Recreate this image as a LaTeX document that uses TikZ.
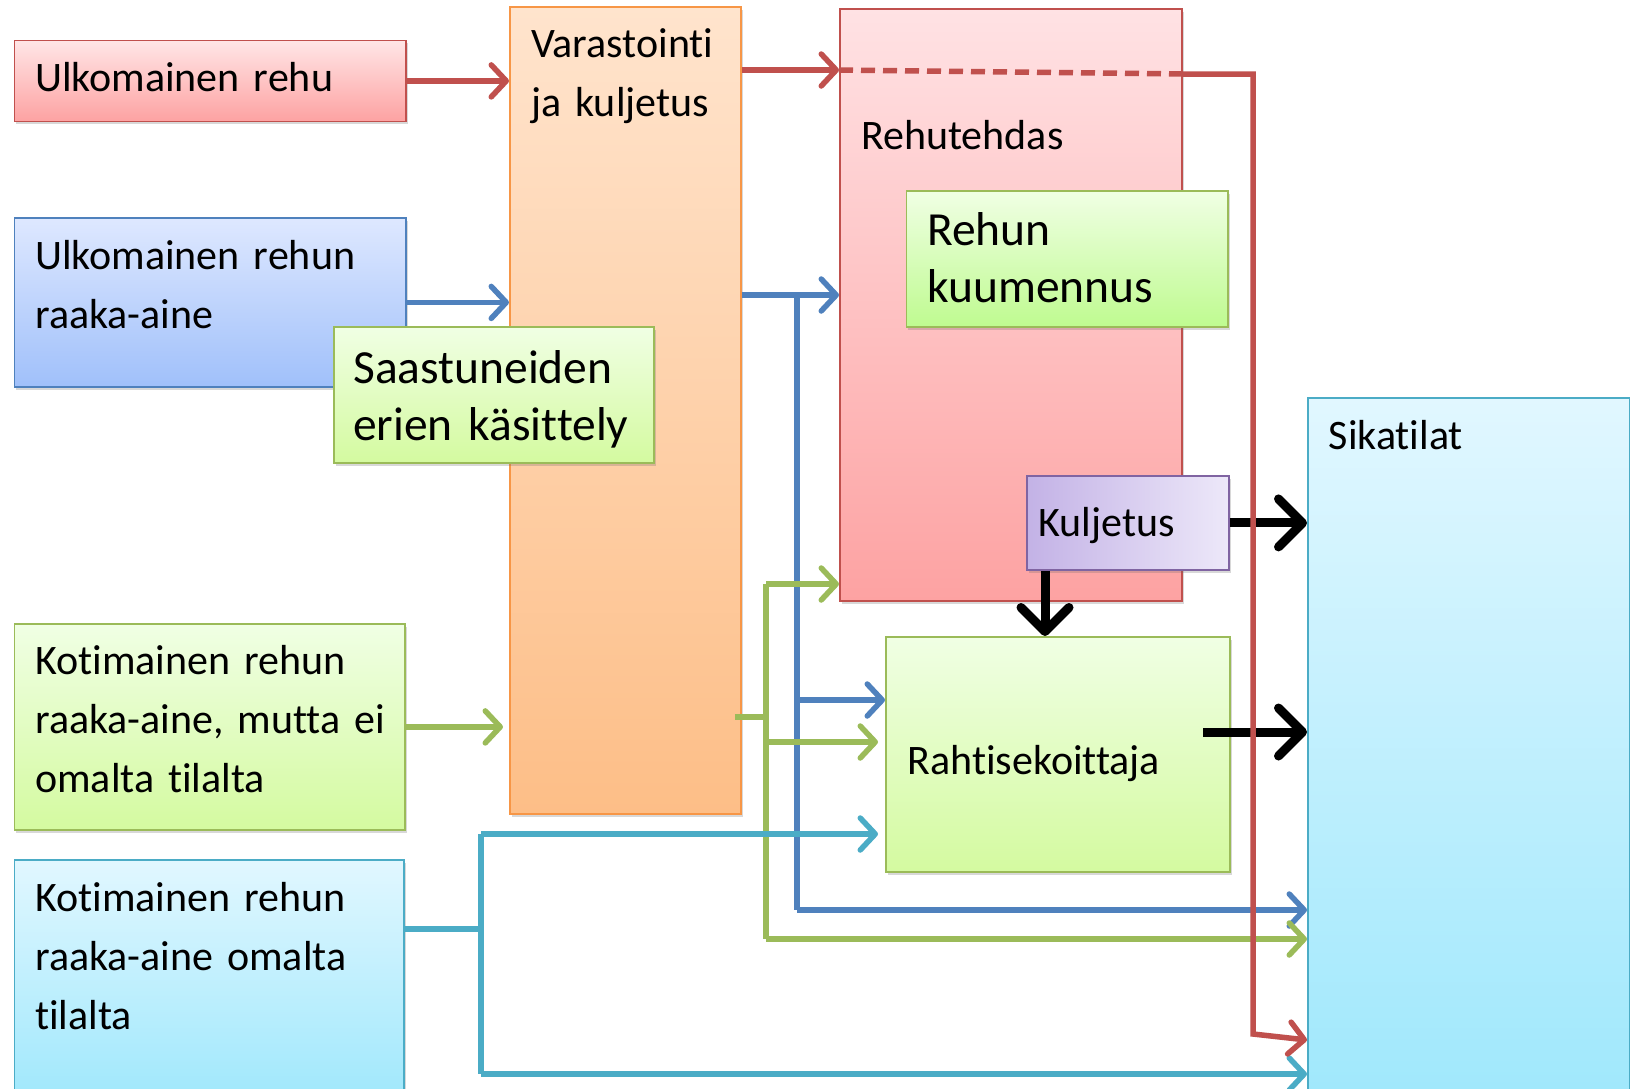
\documentclass[tikz,border=0pt]{standalone}
\usepackage{fontspec}
\setmainfont{Carlito}[Ligatures=NoCommon]
\usetikzlibrary{arrows.meta,shadows}

\definecolor{redline}{RGB}{192,80,77}
\definecolor{blueline}{RGB}{79,129,189}
\definecolor{greenline}{RGB}{155,187,89}
\definecolor{cyanline}{RGB}{75,172,198}
\definecolor{orangeline}{RGB}{247,150,70}
\definecolor{purpleline}{RGB}{128,100,162}
\definecolor{redtop}{RGB}{255,226,228}
\definecolor{redbot}{RGB}{253,162,162}
\definecolor{bluetop}{RGB}{222,232,255}
\definecolor{bluebot}{RGB}{160,192,250}
\definecolor{greentop}{RGB}{240,255,228}
\definecolor{greenbot}{RGB}{212,250,160}
\definecolor{cyantop}{RGB}{225,247,255}
\definecolor{cyanbot}{RGB}{160,232,252}
\definecolor{orangetop}{RGB}{255,228,205}
\definecolor{orangebot}{RGB}{253,190,135}
\definecolor{purpleleft}{RGB}{195,178,230}
\definecolor{purpleright}{RGB}{237,232,249}

\begin{document}
\begin{tikzpicture}[x=1pt,y=1pt,yscale=-1,xscale=1,
  box/.style={draw=#1, line width=1.8pt, inner sep=0pt, anchor=north west,
    drop shadow={shadow xshift=2pt, shadow yshift=-3pt, opacity=0.25, fill=black!60}},
  lbl/.style={anchor=base west, inner sep=0pt, text width=380pt, align=left,
    font=\fontsize{42}{59}\selectfont},
  biglbl/.style={lbl, text width=300pt, font=\fontsize{47.5}{57}\selectfont},
  con/.style={draw=#1, line width=5.5pt, -{Straight Barb[length=15pt,width=32pt,round]}},
  wire/.style={draw=#1, line width=5.5pt},
  kcon/.style={draw=black, line width=9pt, -{Straight Barb[length=24pt,width=48pt,round]}}]

%set diagram size
\path[use as bounding box, fill=white] (0,0) rectangle (1630,1088);

%Shape: Ulkomainen rehu
\node[box=redline, top color=redtop!85!red!40, bottom color=redbot, minimum width=391.5pt, minimum height=81pt] (rehu) at (13.5,39.5) {};
\node[lbl] (rehutxt) at (35,91.5) {Ulkomainen rehu};
%Shape: Ulkomainen raaka-aine
\node[box=blueline, top color=bluetop, bottom color=bluebot, minimum width=391.5pt, minimum height=169pt] (raaka) at (13.5,217) {};
\node[lbl] (raakatxt) at (35,269) {Ulkomainen rehun\\raaka-aine};
%Shape: Kotimainen, ei omalta tilalta
\node[box=greenline, top color=greentop, bottom color=greenbot, minimum width=390.5pt, minimum height=206pt] (kotiei) at (13.5,623) {};
\node[lbl] (kotieitxt) at (35,674) {Kotimainen rehun\\raaka-aine, mutta ei\\omalta tilalta};
%Shape: Kotimainen omalta tilalta
\node[box=cyanline, top color=cyantop, bottom color=cyanbot, minimum width=389.5pt, minimum height=240pt] (omalta) at (13.5,859) {};
\node[lbl] (omaltatxt) at (35,911) {Kotimainen rehun\\raaka-aine omalta\\tilalta};
%Shape: Varastointi
\node[box=orangeline, top color=orangetop, bottom color=orangebot, minimum width=231pt, minimum height=807pt] (varasto) at (509,6) {};
\node[lbl] (varastotxt) at (531,57) {Varastointi\\ja kuljetus};
%Shape: Saastuneiden erien kasittely
\node[box=greenline, top color=greentop, bottom color=greenbot, minimum width=320pt, minimum height=136pt] (saast) at (333,326) {};
\node[biglbl] (saasttxt) at (353,383) {Saastuneiden\\erien käsittely};
%Shape: Rehutehdas
\node[box=redline, top color=redtop, bottom color=redbot, minimum width=342pt, minimum height=592pt] (tehdas) at (839,8) {};
\node[lbl] (tehdastxt) at (861,149) {Rehutehdas};
%Shape: Rehun kuumennus
\node[box=greenline, top color=greentop, bottom color=greenbot!90!green, minimum width=321.5pt, minimum height=136pt] (kuumennus) at (905.5,190) {};
\node[biglbl] (kuumennustxt) at (927,245) {Rehun\\kuumennus};
%Shape: Kuljetus
\node[box=purpleline, left color=purpleleft, right color=purpleright, minimum width=202pt, minimum height=94pt] (kuljetus) at (1026,475) {};
\node[lbl] (kuljetustxt) at (1038.5,536.5) {Kuljetus};
%Shape: Rahtisekoittaja
\node[box=greenline, top color=greentop, bottom color=greenbot, minimum width=344pt, minimum height=235pt] (rahti) at (885,636) {};
\node[lbl] (rahtitxt) at (907.5,774.5) {Rahtisekoittaja};
%Shape: Sikatilat
\node[box=cyanline, top color=cyantop, bottom color=cyanbot, minimum width=322pt, minimum height=700pt] (sika) at (1307,397) {};
\node[lbl] (sikatxt) at (1328.6,449) {Sikatilat};

% blue connectors
\coordinate (b1) at (797,295);
\coordinate (b2) at (797,700);
\coordinate (b3) at (797,910);
\draw[con=blueline] (raaka.east) -- (varasto.west |- raaka.east);
\draw[con=blueline] (varasto.east |- b1) -- (tehdas.west |- b1);
\draw[wire=blueline] (b1) -- (b3);
\draw[con=blueline] (b2) -- (rahti.west |- b2);
\draw[con=blueline] (b3) -- (sika.west |- b3);

% green connectors
\coordinate (g1) at (766,584);
\coordinate (g2) at (766,717);
\coordinate (g3) at (766,742);
\coordinate (g4) at (766,939);
\draw[con=greenline, shorten >=6pt] (kotiei.east) -- (varasto.west |- kotiei.east);
\draw[wire=greenline] ([xshift=-7pt]varasto.east |- g2) -- (g2);
\draw[wire=greenline] (g1) -- (g4);
\draw[con=greenline] (g1) -- (tehdas.west |- g1);
\draw[con=greenline, shorten >=7pt] (g3) -- (rahti.west |- g3);
\draw[con=greenline] (g4) -- (sika.west |- g4);

% cyan connectors
\coordinate (c1) at (481,834);
\coordinate (c2) at (481,929);
\coordinate (c3) at (481,1074);
\draw[wire=cyanline] (omalta.east |- c2) -- (c2);
\draw[wire=cyanline] (c1) -- (c3);
\draw[con=cyanline, shorten >=7pt] (c1) -- (rahti.west |- c1);
\draw[con=cyanline] (c3) -- (sika.west |- c3);

% black connectors
\coordinate (k1) at ([xshift=19pt]kuljetus.south west);
\coordinate (k2) at (1203,732);
\draw[kcon] (kuljetus.east) -- (sika.west |- kuljetus.east);
\draw[kcon] (k1) -- (k1 |- rahti.north);
\draw[kcon] (k2) -- (sika.west |- k2);

% red connectors
\coordinate (r1) at (842,70);
\coordinate (r2) at (1253,74);
\coordinate (r3) at (1253,1034);
\draw[con=redline] (rehu.east) -- (varasto.west |- rehu.east);
\draw[con=redline] (varasto.east |- r1) -- (tehdas.west |- r1);
\draw[wire=redline, dash pattern=on 14pt off 8pt] (tehdas.west |- r1) -- (tehdas.east |- r2);
\draw[con=redline] (tehdas.east |- r2) -- (r2) -- (r3) -- ([yshift=6pt]sika.west |- r3);
\end{tikzpicture}
\end{document}
